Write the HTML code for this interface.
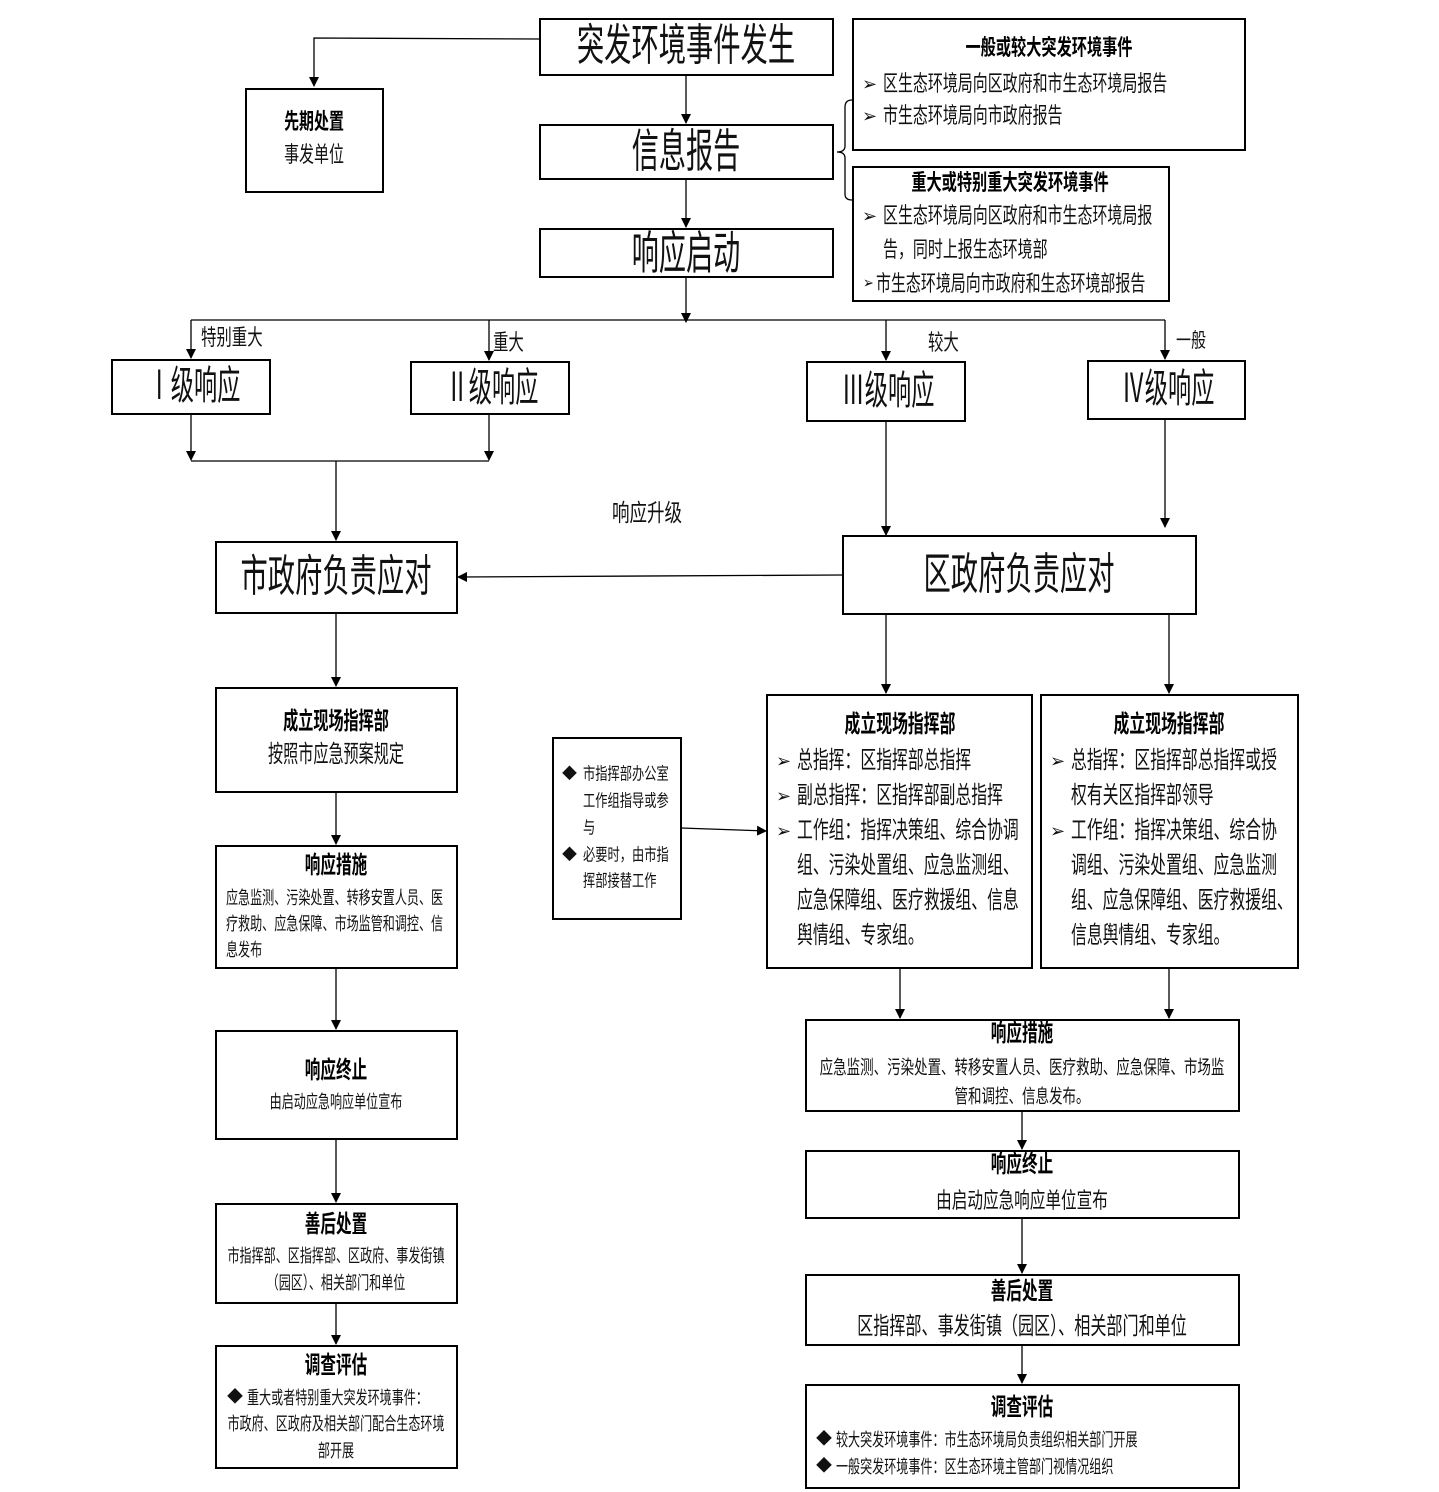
<!DOCTYPE html>
<html><head><meta charset="utf-8"><style>
body{margin:0;background:#fff}
#p{position:relative;width:1439px;height:1492px;overflow:hidden;font-family:"Liberation Sans","Noto Sans CJK SC",sans-serif;color:#111}
.b{position:absolute;border:2px solid #000;box-sizing:border-box;background:#fff}
.c,.l{position:absolute;white-space:nowrap;line-height:1}
.c{transform:translate(-50%,-50%) scaleX(var(--k));}
.l{transform-origin:0 50%;transform:translateY(-50%) scaleX(var(--k));}
.w{font-weight:700;color:#000}
svg{position:absolute;left:0;top:0}
</style></head><body><div id="p">
<svg width="1439" height="1492">
<defs><marker id="a" markerWidth="10" markerHeight="10" refX="9" refY="5" orient="auto" markerUnits="userSpaceOnUse"><path d="M0,0 L10,5 L0,10 z" fill="#000"/></marker></defs>
<g stroke="#000" stroke-width="1.3" fill="none">
<path d="M539,39 L314,38 L314,86" marker-end="url(#a)"/>
<path d="M686,75 L686,123" marker-end="url(#a)"/>
<path d="M686,179 L686,227" marker-end="url(#a)"/>
<path d="M686,277 L686,322" marker-end="url(#a)"/>
<path d="M191,320 L1165,320"/>
<path d="M191,320 L191,358" marker-end="url(#a)"/>
<path d="M489,320 L489,360" marker-end="url(#a)"/>
<path d="M886,320 L886,360" marker-end="url(#a)"/>
<path d="M1165,320 L1165,359" marker-end="url(#a)"/>
<path d="M191,414 L191,460" marker-end="url(#a)"/>
<path d="M489,414 L489,460" marker-end="url(#a)"/>
<path d="M191,461 L489,461"/>
<path d="M336,461 L336,540" marker-end="url(#a)"/>
<path d="M886,421 L886,535" marker-end="url(#a)"/>
<path d="M1165,419 L1165,527" marker-end="url(#a)"/>
<path d="M842,575 L458,577" marker-end="url(#a)"/>
<path d="M336,613 L336,686" marker-end="url(#a)"/>
<path d="M336,792 L336,844" marker-end="url(#a)"/>
<path d="M336,968 L336,1029" marker-end="url(#a)"/>
<path d="M336,1139 L336,1202" marker-end="url(#a)"/>
<path d="M336,1303 L336,1344" marker-end="url(#a)"/>
<path d="M886,614 L886,693" marker-end="url(#a)"/>
<path d="M1169,614 L1169,693" marker-end="url(#a)"/>
<path d="M681,828 L766,831" marker-end="url(#a)"/>
<path d="M900,968 L900,1018" marker-end="url(#a)"/>
<path d="M1169,968 L1169,1018" marker-end="url(#a)"/>
<path d="M1022,1111 L1022,1149" marker-end="url(#a)"/>
<path d="M1022,1218 L1022,1273" marker-end="url(#a)"/>
<path d="M1022,1345 L1022,1383" marker-end="url(#a)"/>
<path d="M852,100 Q845,100 845,107 L845,146 Q845,152 837,152 Q845,152 845,158 L845,194 Q845,200 852,200"/>
</g></svg>

<div class="b" style="left:539px;top:18px;width:295px;height:58px"></div>
<div class="b" style="left:539px;top:124px;width:295px;height:56px"></div>
<div class="b" style="left:539px;top:228px;width:295px;height:50px"></div>
<div class="b" style="left:245px;top:88px;width:139px;height:105px"></div>
<div class="b" style="left:852px;top:18px;width:394px;height:133px"></div>
<div class="b" style="left:852px;top:166px;width:318px;height:136px"></div>
<div class="b" style="left:111px;top:359px;width:160px;height:56px"></div>
<div class="b" style="left:410px;top:361px;width:160px;height:54px"></div>
<div class="b" style="left:806px;top:361px;width:160px;height:61px"></div>
<div class="b" style="left:1087px;top:360px;width:159px;height:60px"></div>
<div class="b" style="left:215px;top:541px;width:243px;height:73px"></div>
<div class="b" style="left:842px;top:535px;width:355px;height:80px"></div>
<div class="b" style="left:215px;top:687px;width:243px;height:106px"></div>
<div class="b" style="left:215px;top:845px;width:243px;height:124px"></div>
<div class="b" style="left:215px;top:1030px;width:243px;height:110px"></div>
<div class="b" style="left:215px;top:1203px;width:243px;height:101px"></div>
<div class="b" style="left:215px;top:1345px;width:243px;height:124px"></div>
<div class="b" style="left:552px;top:737px;width:130px;height:183px"></div>
<div class="b" style="left:766px;top:694px;width:267px;height:275px"></div>
<div class="b" style="left:1040px;top:694px;width:259px;height:275px"></div>
<div class="b" style="left:805px;top:1019px;width:435px;height:93px"></div>
<div class="b" style="left:805px;top:1150px;width:435px;height:69px"></div>
<div class="b" style="left:805px;top:1274px;width:435px;height:72px"></div>
<div class="b" style="left:805px;top:1384px;width:435px;height:105px"></div>

<div class="c" style="left:686px;top:46px;font-size:44px;--k:.62">突发环境事件发生</div>
<div class="c" style="left:686px;top:151px;font-size:46px;--k:.59">信息报告</div>
<div class="c" style="left:686px;top:253px;font-size:46px;--k:.59">响应启动</div>
<div class="c w" style="left:314px;top:122px;font-size:22px;--k:.68">先期处置</div>
<div class="c" style="left:314px;top:155px;font-size:22px;--k:.68">事发单位</div>

<div class="c w" style="left:1049px;top:48px;font-size:22px;--k:.69">一般或较大突发环境事件</div>
<div class="l" style="left:862px;top:84px;font-size:18px;--k:1">➢</div>
<div class="l" style="left:883px;top:84px;font-size:22px;--k:.68">区生态环境局向区政府和市生态环境局报告</div>
<div class="l" style="left:862px;top:116px;font-size:18px;--k:1">➢</div>
<div class="l" style="left:883px;top:116px;font-size:22px;--k:.68">市生态环境局向市政府报告</div>
<div class="c w" style="left:1010px;top:183px;font-size:22px;--k:.69">重大或特别重大突发环境事件</div>
<div class="l" style="left:862px;top:216px;font-size:18px;--k:1">➢</div>
<div class="l" style="left:883px;top:216px;font-size:22px;--k:.68">区生态环境局向区政府和市生态环境局报</div>
<div class="l" style="left:883px;top:250px;font-size:22px;--k:.68">告，同时上报生态环境部</div>
<div class="l" style="left:863px;top:284px;font-size:16px;--k:.8">➢</div>
<div class="l" style="left:876px;top:284px;font-size:22px;--k:.68">市生态环境局向市政府和生态环境部报告</div>

<div class="l" style="left:201px;top:338px;font-size:22px;--k:.7">特别重大</div>
<div class="l" style="left:493px;top:343px;font-size:22px;--k:.7">重大</div>
<div class="l" style="left:928px;top:343px;font-size:22px;--k:.7">较大</div>
<div class="l" style="left:1176px;top:341px;font-size:20px;--k:.75">一般</div>

<div class="c" style="left:194px;top:386px;font-size:40px;--k:.58">Ⅰ级响应</div>
<div class="c" style="left:492px;top:388px;font-size:40px;--k:.58">Ⅱ级响应</div>
<div class="c" style="left:888px;top:391px;font-size:40px;--k:.58">Ⅲ级响应</div>
<div class="c" style="left:1168px;top:389px;font-size:40px;--k:.58">Ⅳ级响应</div>

<div class="c" style="left:647px;top:514px;font-size:24px;--k:.73">响应升级</div>
<div class="c" style="left:336px;top:577px;font-size:44px;--k:.62">市政府负责应对</div>
<div class="c" style="left:1019px;top:575px;font-size:44px;--k:.62">区政府负责应对</div>

<div class="c w" style="left:336px;top:722px;font-size:24px;--k:.63">成立现场指挥部</div>
<div class="c" style="left:336px;top:755px;font-size:24px;--k:.63">按照市应急预案规定</div>
<div class="c w" style="left:336px;top:866px;font-size:24px;--k:.65">响应措施</div>
<div class="l" style="left:226px;top:898px;font-size:18px;--k:.67">应急监测、污染处置、转移安置人员、医</div>
<div class="l" style="left:226px;top:924px;font-size:18px;--k:.67">疗救助、应急保障、市场监管和调控、信</div>
<div class="l" style="left:226px;top:950px;font-size:18px;--k:.67">息发布</div>
<div class="c w" style="left:336px;top:1071px;font-size:24px;--k:.65">响应终止</div>
<div class="c" style="left:336px;top:1102px;font-size:18px;--k:.67">由启动应急响应单位宣布</div>
<div class="c w" style="left:336px;top:1225px;font-size:24px;--k:.65">善后处置</div>
<div class="c" style="left:336px;top:1256px;font-size:18px;--k:.67">市指挥部、区指挥部、区政府、事发街镇</div>
<div class="c" style="left:336px;top:1283px;font-size:18px;--k:.67">（园区）、相关部门和单位</div>
<div class="c w" style="left:336px;top:1366px;font-size:24px;--k:.65">调查评估</div>
<div class="l" style="left:227px;top:1398px;font-size:16px;--k:1">◆</div>
<div class="l" style="left:247px;top:1398px;font-size:18px;--k:.67">重大或者特别重大突发环境事件：</div>
<div class="c" style="left:336px;top:1424px;font-size:18px;--k:.67">市政府、区政府及相关部门配合生态环境</div>
<div class="c" style="left:336px;top:1451px;font-size:18px;--k:.67">部开展</div>

<div class="l" style="left:562px;top:774px;font-size:15px;--k:1">◆</div>
<div class="l" style="left:583px;top:774px;font-size:17px;--k:.72">市指挥部办公室</div>
<div class="l" style="left:583px;top:801px;font-size:17px;--k:.72">工作组指导或参</div>
<div class="l" style="left:583px;top:828px;font-size:17px;--k:.72">与</div>
<div class="l" style="left:562px;top:855px;font-size:15px;--k:1">◆</div>
<div class="l" style="left:583px;top:855px;font-size:17px;--k:.72">必要时，由市指</div>
<div class="l" style="left:583px;top:881px;font-size:17px;--k:.72">挥部接替工作</div>

<div class="c w" style="left:900px;top:725px;font-size:24px;--k:.66">成立现场指挥部</div>
<div class="l" style="left:776px;top:761px;font-size:18px;--k:1">➢</div>
<div class="l" style="left:797px;top:761px;font-size:24px;--k:.66">总指挥：区指挥部总指挥</div>
<div class="l" style="left:776px;top:796px;font-size:18px;--k:1">➢</div>
<div class="l" style="left:797px;top:796px;font-size:24px;--k:.66">副总指挥：区指挥部副总指挥</div>
<div class="l" style="left:776px;top:831px;font-size:18px;--k:1">➢</div>
<div class="l" style="left:797px;top:831px;font-size:24px;--k:.66">工作组：指挥决策组、综合协调</div>
<div class="l" style="left:797px;top:866px;font-size:24px;--k:.66">组、污染处置组、应急监测组、</div>
<div class="l" style="left:797px;top:901px;font-size:24px;--k:.66">应急保障组、医疗救援组、信息</div>
<div class="l" style="left:797px;top:936px;font-size:24px;--k:.66">舆情组、专家组。</div>

<div class="c w" style="left:1169px;top:725px;font-size:24px;--k:.66">成立现场指挥部</div>
<div class="l" style="left:1050px;top:761px;font-size:18px;--k:1">➢</div>
<div class="l" style="left:1071px;top:761px;font-size:24px;--k:.66">总指挥：区指挥部总指挥或授</div>
<div class="l" style="left:1071px;top:796px;font-size:24px;--k:.66">权有关区指挥部领导</div>
<div class="l" style="left:1050px;top:831px;font-size:18px;--k:1">➢</div>
<div class="l" style="left:1071px;top:831px;font-size:24px;--k:.66">工作组：指挥决策组、综合协</div>
<div class="l" style="left:1071px;top:866px;font-size:24px;--k:.66">调组、污染处置组、应急监测</div>
<div class="l" style="left:1071px;top:901px;font-size:24px;--k:.66">组、应急保障组、医疗救援组、</div>
<div class="l" style="left:1071px;top:936px;font-size:24px;--k:.66">信息舆情组、专家组。</div>

<div class="c w" style="left:1022px;top:1034px;font-size:24px;--k:.65">响应措施</div>
<div class="c" style="left:1022px;top:1068px;font-size:19px;--k:.71">应急监测、污染处置、转移安置人员、医疗救助、应急保障、市场监</div>
<div class="c" style="left:1022px;top:1097px;font-size:19px;--k:.71">管和调控、信息发布。</div>
<div class="c w" style="left:1022px;top:1165px;font-size:24px;--k:.65">响应终止</div>
<div class="c" style="left:1022px;top:1201px;font-size:22px;--k:.71">由启动应急响应单位宣布</div>
<div class="c w" style="left:1022px;top:1292px;font-size:24px;--k:.65">善后处置</div>
<div class="c" style="left:1022px;top:1327px;font-size:24px;--k:.67">区指挥部、事发街镇（园区）、相关部门和单位</div>
<div class="c w" style="left:1022px;top:1408px;font-size:24px;--k:.65">调查评估</div>
<div class="l" style="left:816px;top:1440px;font-size:16px;--k:1">◆</div>
<div class="l" style="left:836px;top:1440px;font-size:18px;--k:.67">较大突发环境事件：市生态环境局负责组织相关部门开展</div>
<div class="l" style="left:816px;top:1467px;font-size:16px;--k:1">◆</div>
<div class="l" style="left:836px;top:1467px;font-size:18px;--k:.67">一般突发环境事件：区生态环境主管部门视情况组织</div>
</div></body></html>
